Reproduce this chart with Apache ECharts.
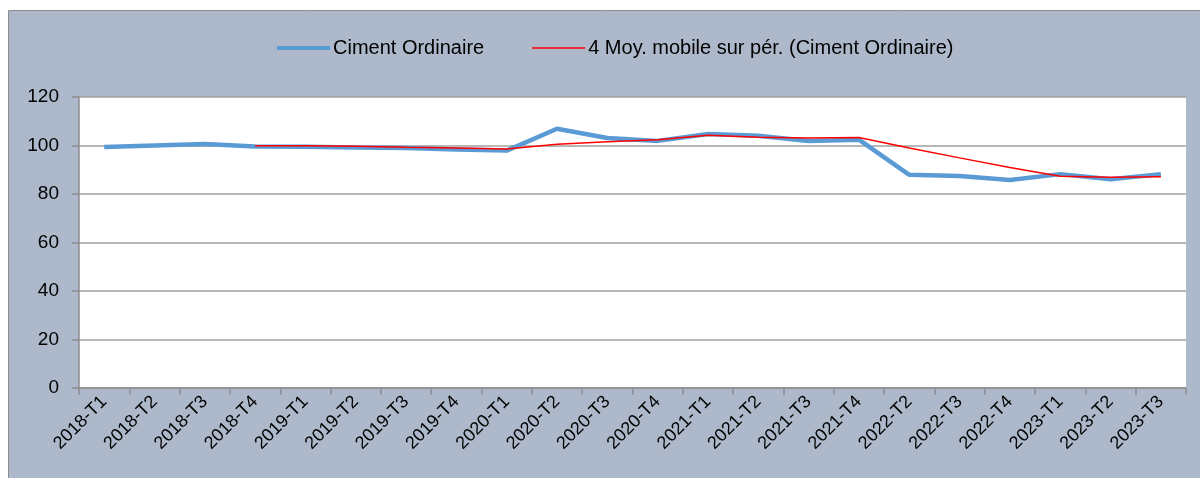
<!DOCTYPE html>
<html>
<head>
<meta charset="utf-8">
<script src="https://cdn.jsdelivr.net/npm/echarts@6/dist/echarts.min.js"></script>
<style>
html,body{margin:0;padding:0;background:#fff;}
#chart{width:1200px;height:478px;}
</style>
</head>
<body>
<div id="chart"></div>
<script>
const categories = ['2018-T1','2018-T2','2018-T3','2018-T4','2019-T1','2019-T2','2019-T3','2019-T4','2020-T1','2020-T2','2020-T3','2020-T4','2021-T1','2021-T2','2021-T3','2021-T4','2022-T2','2022-T3','2022-T4','2023-T1','2023-T2','2023-T3'];
const cimentOrdinaire = [99.4,100.0,100.6,99.6,99.5,99.2,99.0,98.3,97.9,106.9,103.1,101.9,104.7,104.0,101.9,102.4,87.9,87.4,85.8,88.2,86.1,88.2];
const moyenneMobile = [null,null,null,99.9,99.9,99.7,99.3,99.0,98.6,100.5,101.5,102.4,104.2,103.4,103.1,103.3,99.0,94.9,90.9,87.3,86.9,87.1];
const yTicks = [0,20,40,60,80,100,120];

const chart = echarts.init(document.getElementById('chart'), null, {renderer:'canvas'});
const font = 'Liberation Sans';
chart.setOption({
  backgroundColor: '#ffffff',
  animation: false,
  graphic: [{
    type: 'rect', z: -10, silent: true,
    shape: {x: 8.5, y: 10.5, width: 1200, height: 480},
    style: {fill: '#ADB9CA', stroke: '#8C8C8C', lineWidth: 1}
  }],
  legend: {
    left: 272, top: 33,
    itemWidth: 53, itemHeight: 14, itemGap: 48, symbolKeepAspect: true,
    textStyle: {fontFamily: font, fontSize: 20, color: '#000', padding: [0, 0, 0, -2]},
    data: [
      {name: 'Ciment Ordinaire', icon: 'path://M0,0H53V4H0Z'},
      {name: '4 Moy. mobile sur pér. (Ciment Ordinaire)', icon: 'path://M0,0H53V1.5H0Z'}
    ]
  },
  grid: {left: 79, right: 14, top: 97, bottom: 90, containLabel: false,
         show: true, backgroundColor: '#ffffff', borderWidth: 0},
  xAxis: {
    type: 'category', data: categories, boundaryGap: true,
    axisLine: {show: true, lineStyle: {color: '#8C8C8C', width: 1.5}},
    axisTick: {show: true, alignWithLabel: false, length: 7, lineStyle: {color: '#8C8C8C', width: 1.5}},
    axisLabel: {rotate: 45, interval: 0, margin: 11, fontFamily: font, fontSize: 18, color: '#000'}
  },
  yAxis: {
    type: 'value', min: yTicks[0], max: yTicks[yTicks.length-1], interval: 20,
    axisLine: {show: true, lineStyle: {color: '#8C8C8C', width: 1.5}},
    axisTick: {show: true, length: 7, lineStyle: {color: '#8C8C8C', width: 1.5}},
    axisLabel: {margin: 20, fontFamily: font, fontSize: 19, color: '#000'},
    splitLine: {show: true, lineStyle: {color: '#A0A0A0', width: 1.5}}
  },
  series: [
    {name: 'Ciment Ordinaire', type: 'line', data: cimentOrdinaire, symbol: 'none',
     lineStyle: {color: '#5B9BD5', width: 4.5}, itemStyle: {color: '#5B9BD5'}, z: 2},
    {name: '4 Moy. mobile sur pér. (Ciment Ordinaire)', type: 'line', data: moyenneMobile, symbol: 'none',
     lineStyle: {color: '#FF0000', width: 1.5}, itemStyle: {color: '#FF0000'}, z: 3}
  ]
});
</script>
</body>
</html>
